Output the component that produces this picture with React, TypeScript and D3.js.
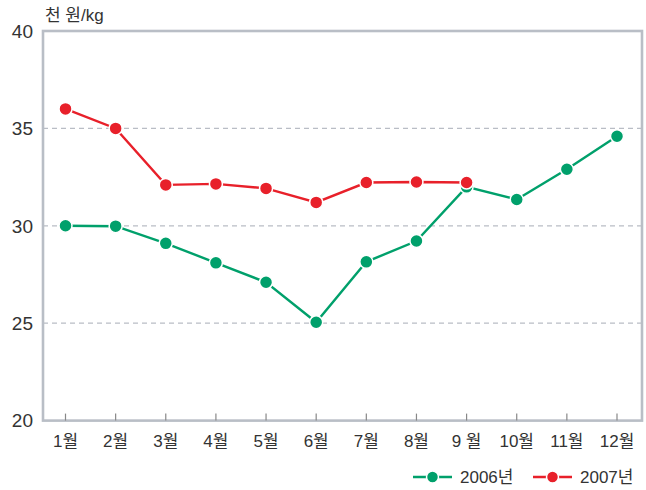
import React from "react";
import * as d3 from "d3";

const months = ["1월", "2월", "3월", "4월", "5월", "6월", "7월", "8월", "9 월", "10월", "11월", "12월"];
const series2006 = [30.0, 29.98, 29.1, 28.1, 27.1, 25.05, 28.15, 29.22, 32.0, 31.35, 32.9, 34.6];
const series2007 = [36.0, 35.0, 32.1, 32.15, 31.92, 31.2, 32.22, 32.25, 32.22];
const yTicks = [20, 25, 30, 35, 40];
const gridTicks = [25, 30, 35];
const legendLabels = ["2006년", "2007년"];
const colors = ["#00a06b", "#e8202a"];

export default function App() {
  const W = 646, H = 490;
  const left = 43, right = 642, top = 31, bottom = 420.6;
  const x = d3.scalePoint<string>().domain(months).range([65.5, 617]);
  const y = d3.scaleLinear().domain([20, 40]).range([bottom, top]);
  const line = d3.line<number>().x((_, i) => x(months[i])!).y((d) => y(d));
  const font = "'Liberation Sans', 'Noto Sans CJK KR', sans-serif";
  const seriesList = [series2006, series2007];
  return (
    <svg width={W} height={H} style={{ position: "absolute", left: 0, top: 0 }} fontFamily={font}>
      <rect width={W} height={H} fill="#fff" />
      {gridTicks.map((t) => (
        <line key={t} x1={left} x2={right} y1={y(t)} y2={y(t)} stroke="#b9bdc5" strokeWidth={1.3} strokeDasharray="5,4" />
      ))}
      <rect x={left} y={top} width={right - left} height={bottom - top} fill="none" stroke="#b9bec6" strokeWidth={2.6} />
      {months.map((m) => (
        <line key={m} x1={x(m)} x2={x(m)} y1={bottom} y2={bottom - 7} stroke="#888" strokeWidth={1.2} />
      ))}
      {yTicks.map((t) => (
        <text key={t} x={33} y={y(t)} dy="0.36em" textAnchor="end" fontSize={19} fill="#333">{t}</text>
      ))}
      {months.map((m) => (
        <text key={m} x={x(m)} y={447} textAnchor="middle" fontSize={17} fill="#333">{m}</text>
      ))}
      <text x={45} y={21} fontSize={17} fill="#333">천 원/kg</text>
      {seriesList.map((s, k) => (
        <g key={k}>
          <path d={line(s)!} fill="none" stroke={colors[k]} strokeWidth={2.4} />
          {s.map((v, i) => (
            <circle key={i} cx={x(months[i])} cy={y(v)} r={6.5} fill={colors[k]} stroke="#fff" strokeWidth={1.5} />
          ))}
        </g>
      ))}
      {legendLabels.map((l, k) => {
        const lx = 413 + k * 120;
        return (
          <g key={l}>
            <line x1={lx} x2={lx + 39} y1={477} y2={477} stroke={colors[k]} strokeWidth={2.4} />
            <circle cx={lx + 19.5} cy={477} r={6} fill={colors[k]} stroke="#fff" strokeWidth={1.5} />
            <text x={lx + 47} y={477} dy="0.36em" fontSize={17} fill="#333">{l}</text>
          </g>
        );
      })}
    </svg>
  );
}
